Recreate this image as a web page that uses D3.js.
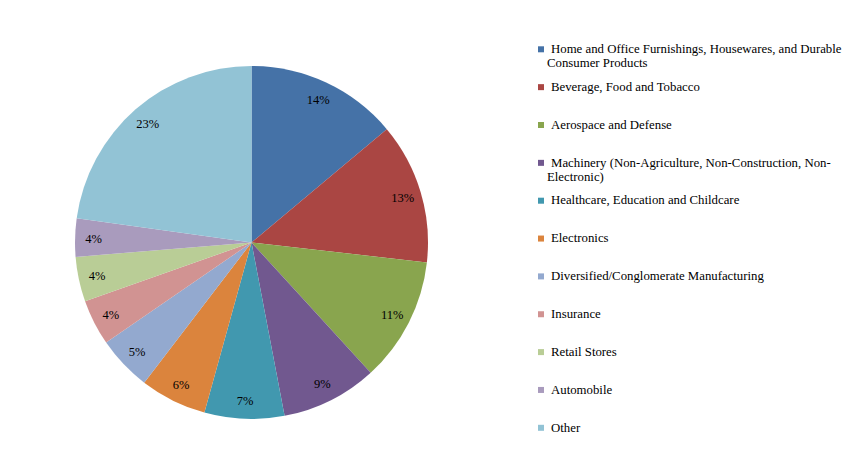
<!DOCTYPE html>
<html>
<head>
<meta charset="utf-8">
<script src="https://cdn.jsdelivr.net/npm/d3@7"></script>
<style>
  body { margin: 0; background: #fff; }
</style>
</head>
<body>
<svg id="chart" width="859" height="461" font-family="'Liberation Serif', 'DejaVu Serif', serif" font-size="12.8"></svg>
<script>
// categories, in the order they go round the pie (clockwise from 12 o'clock)
var categories = [
  "Home and Office Furnishings, Housewares, and Durable Consumer Products",
  "Beverage, Food and Tobacco",
  "Aerospace and Defense",
  "Machinery (Non-Agriculture, Non-Construction, Non-Electronic)",
  "Healthcare, Education and Childcare",
  "Electronics",
  "Diversified/Conglomerate Manufacturing",
  "Insurance",
  "Retail Stores",
  "Automobile",
  "Other"
];

// share of total, in percent
var shares = [13.9, 12.9, 11.4, 8.8, 7.3, 6.1, 5.0, 4.2, 4.1, 3.5, 22.8];

var colors = ["#4572A7", "#AA4643", "#89A54E", "#71588F", "#4198AF", "#DB843D",
              "#93A9CF", "#D19392", "#B9CD96", "#A99BBD", "#92C3D5"];

var svg = d3.select("#chart");

var cx = 251.5, cy = 242.5, radius = 176.5;

var total = d3.sum(shares);
var data = categories.map(function(c, i) { return { name: c, value: shares[i], color: colors[i] }; });

var pie = d3.pie().value(function(d) { return d.value; }).sort(null);
var arc = d3.arc().innerRadius(0).outerRadius(radius);
var labelArc = d3.arc().innerRadius(158).outerRadius(158);

var g = svg.append("g").attr("transform", "translate(" + cx + "," + cy + ")");

var arcs = pie(data);

g.selectAll("path.slice")
  .data(arcs)
  .enter().append("path")
  .attr("class", "slice")
  .attr("d", arc)
  .attr("fill", function(d) { return d.data.color; });

g.selectAll("text.pct")
  .data(arcs)
  .enter().append("text")
  .attr("class", "pct")
  .attr("transform", function(d) { return "translate(" + labelArc.centroid(d) + ")"; })
  .attr("text-anchor", "middle")
  .attr("dy", "0.38em")
  .attr("font-size", 12.5)
  .attr("fill", "#000")
  .text(function(d) { return Math.round(d.data.value / total * 100) + "%"; });

// legend
var legX = 538, legTextX = 551, legWrapX = 547, legTop = 53, legStep = 37.85, legMaxW = 300;

var leg = svg.append("g");

data.forEach(function(d, i) {
  var base = legTop + i * legStep;
  leg.append("rect")
    .attr("x", legX).attr("y", base - 6.7)
    .attr("width", 6).attr("height", 6)
    .attr("fill", d.color);

  // greedy wrap, breaking after spaces and hyphens
  var tokens = d.name.match(/[^ -]+[ -]?/g);
  var t = leg.append("text").attr("x", legTextX).attr("y", base).attr("fill", "#000");
  var line = "", lineNo = 0;
  var tspan = t.append("tspan").attr("x", legTextX).attr("y", base);
  tokens.forEach(function(tok) {
    var trial = line + tok;
    tspan.text(trial.trim());
    if (tspan.node().getComputedTextLength() > legMaxW && line !== "") {
      tspan.text(line.trim());
      line = tok;
      lineNo++;
      tspan = t.append("tspan").attr("x", legWrapX).attr("y", base + lineNo * 14).text(tok.trim());
    } else {
      line = trial;
    }
  });
});
</script>
</body>
</html>
